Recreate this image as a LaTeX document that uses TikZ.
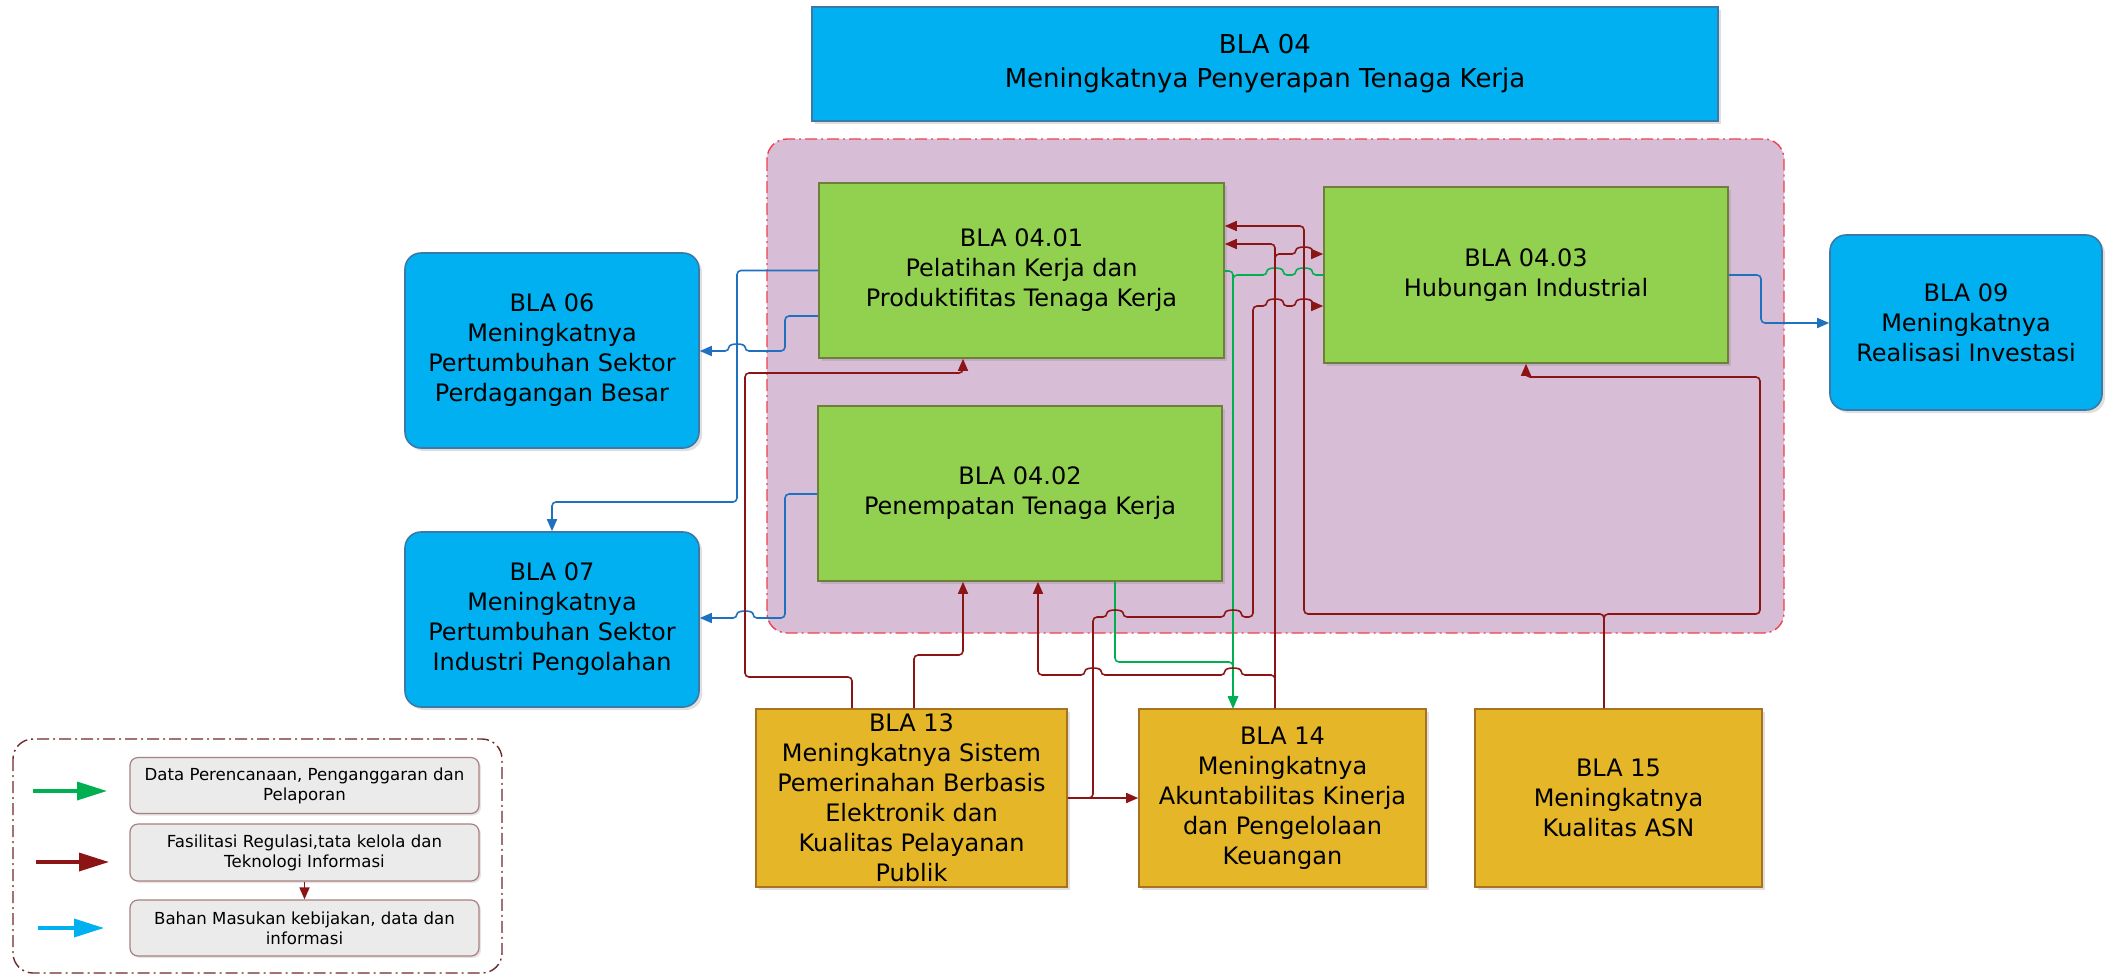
\documentclass[tikz,border=0pt]{standalone}
\usepackage{fontspec}
\setmainfont{DejaVu Sans}
\usetikzlibrary{arrows.meta,shadows}
\definecolor{cyanbox}{HTML}{00B0F0}
\definecolor{cyanedge}{HTML}{3A79A8}
\definecolor{greenbox}{HTML}{92D050}
\definecolor{greenedge}{HTML}{6F7F3A}
\definecolor{goldbox}{HTML}{E5B628}
\definecolor{goldedge}{HTML}{A8721E}
\definecolor{thistlebg}{HTML}{D8BDD7}
\definecolor{frameRed}{HTML}{F0404A}
\definecolor{cblue}{HTML}{1F70BF}
\definecolor{cred}{HTML}{8B1515}
\definecolor{cgreen}{HTML}{00B050}
\definecolor{legblue}{HTML}{00B0F0}
\definecolor{legframe}{HTML}{6E2A2A}
\definecolor{legfill}{HTML}{EBEBEB}
\definecolor{legedge}{HTML}{A88080}
\tikzset{
  boxbase/.style={draw, line width=0.8pt, inner sep=0pt, align=center, text=black,
    font=\fontsize{12pt}{15pt}\selectfont,
    drop shadow={shadow xshift=1.5pt, shadow yshift=-1.5pt, opacity=0.25}},
  topbox/.style={boxbase, fill=cyanbox, draw=cyanedge},
  cyanround/.style={boxbase, fill=cyanbox, draw=cyanedge, rounded corners=8pt},
  greenbx/.style={boxbase, fill=greenbox, draw=greenedge},
  goldbx/.style={boxbase, fill=goldbox, draw=goldedge},
  legbox/.style={draw=legedge, fill=legfill, line width=0.6pt, rounded corners=4pt, inner sep=0pt,
    align=center, font=\fontsize{8.3pt}{10pt}\selectfont, minimum width=174.5pt,
    drop shadow={shadow xshift=1pt, shadow yshift=-1pt, opacity=0.2}},
  conn/.style={line width=0.8pt, rounded corners=2pt, -{Triangle[length=6pt,width=5pt]}},
  conb/.style={conn, draw=cblue},
  conr/.style={conn, draw=cred},
  cong/.style={conn, draw=cgreen},
  legarrow/.style={line width=1.7pt, -{Triangle[length=15pt,width=9pt]}}
}
\begin{document}
\begin{tikzpicture}[x=0.5pt, y=-0.5pt]
\fill[white] (0,0) rectangle (2114,975);
\useasboundingbox (0,0) rectangle (2114,975);

% container
\draw[draw=frameRed, fill=thistlebg, line width=0.7pt, rounded corners=10pt,
  dash pattern=on 6pt off 2pt on 1pt off 2pt] (767,139) rectangle (1784,633);

% nodes
\node[topbox, minimum width=453pt, minimum height=57pt, font=\fontsize{13pt}{17pt}\selectfont] (b04) at (1265,64)
  {BLA 04\\Meningkatnya Penyerapan Tenaga Kerja};
\node[greenbx, minimum width=202.5pt, minimum height=87.5pt] (b0401) at (1021.5,270.5)
  {BLA 04.01\\Pelatihan Kerja dan\\Produktifitas Tenaga Kerja};
\node[greenbx, minimum width=202pt, minimum height=87.5pt] (b0402) at (1020,493.5)
  {BLA 04.02\\Penempatan Tenaga Kerja};
\node[greenbx, minimum width=202pt, minimum height=88pt] (b0403) at (1526,275)
  {BLA 04.03\\Hubungan Industrial};
\node[cyanround, minimum width=147pt, minimum height=97.5pt] (b06) at (552,350.5)
  {BLA 06\\Meningkatnya\\Pertumbuhan Sektor\\Perdagangan Besar};
\node[cyanround, minimum width=147pt, minimum height=87.5pt] (b07) at (552,619.5)
  {BLA 07\\Meningkatnya\\Pertumbuhan Sektor\\Industri Pengolahan};
\node[cyanround, minimum width=136pt, minimum height=87.5pt] (b09) at (1966,322.5)
  {BLA 09\\Meningkatnya\\Realisasi Investasi};
\node[goldbx, minimum width=155.5pt, minimum height=89pt] (b13) at (911.5,798)
  {BLA 13\\Meningkatnya Sistem\\Pemerinahan Berbasis\\Elektronik dan\\Kualitas Pelayanan\\Publik};
\node[goldbx, minimum width=143.5pt, minimum height=89pt] (b14) at (1282.5,798)
  {BLA 14\\Meningkatnya\\Akuntabilitas Kinerja\\dan Pengelolaan\\Keuangan};
\node[goldbx, minimum width=143.5pt, minimum height=89pt] (b15) at (1618.5,798)
  {BLA 15\\Meningkatnya\\Kualitas ASN};

% blue connectors
\draw[conb] (b0401.west) -- (737,270.5) -- (737,502) -- (552,502) -- (b07.north);
\draw[conb] (b0401.west |- 0,316) -- (785,316) -- (785,351) -- (745,351)
  .. controls (745,343) and (729,343) .. (729,351) -- (b06.east |- 0,351);
\draw[conb] (b0402.west |- 0,494) -- (785,494) -- (785,618) -- (753,618)
  .. controls (753,610) and (737,610) .. (737,618) -- (b07.east |- 0,618);
\draw[conb] (b0403.east) -- (1761,275) -- (1761,323) -- (b09.west |- 0,323);

% green connectors
\draw[cong] (b0401.east |- 0,271) -- (1233,271) -- (b14.north -| 1233,0);
\draw[cong] (b0403.west) -- (1312,275) .. controls (1312,267) and (1296,267) .. (1296,275)
  -- (1283,275) .. controls (1283,267) and (1267,267) .. (1267,275)
  -- (1233,275) -- (b14.north -| 1233,0);
\draw[cong] (b0402.south -| 1115,0) -- (1115,662) -- (1233,662) -- (b14.north -| 1233,0);

% red connectors from BLA 13
\draw[conr] (b13.north -| 852,0) -- (852,677) -- (745,677) -- (745,373) -- (963,373) -- (b0401.south -| 963,0);
\draw[conr] (b13.north -| 914,0) -- (914,655) -- (963,655) -- (b0402.south -| 963,0);
\draw[conr] (b13.east |- 0,798) -- (b14.west |- 0,798);
\draw[conr] (b13.east |- 0,798) -- (1093,798) -- (1093,617) -- (1107,617)
  .. controls (1107,609) and (1123,609) .. (1123,617) -- (1225,617)
  .. controls (1225,609) and (1241,609) .. (1241,617) -- (1253,617) -- (1253,306) -- (1267,306)
  .. controls (1267,298) and (1283,298) .. (1283,306) -- (1296,306)
  .. controls (1296,298) and (1312,298) .. (1312,306) -- (b0403.west |- 0,306);

% red connectors from BLA 14
\draw[conr] (b14.north -| 1275,0) -- (1275,244) -- (b0401.east |- 0,244);
\draw[conr] (b14.north -| 1275,0) -- (1275,254) -- (1296,254)
  .. controls (1296,246) and (1312,246) .. (1312,254) -- (b0403.west |- 0,254);
\draw[conr] (b14.north -| 1275,0) -- (1275,675) -- (1241,675)
  .. controls (1241,667) and (1225,667) .. (1225,675) -- (1101,675)
  .. controls (1101,667) and (1085,667) .. (1085,675) -- (1038,675) -- (b0402.south -| 1038,0);

% red connectors from BLA 15
\draw[conr] (b15.north -| 1604,0) -- (1604,614) -- (1304,614) -- (1304,226) -- (b0401.east |- 0,226);
\draw[conr] (b15.north -| 1604,0) -- (1604,614) -- (1760,614) -- (1760,377) -- (1526,377) -- (b0403.south -| 1526,0);

% legend
\draw[legframe, line width=0.7pt, rounded corners=10pt,
  dash pattern=on 6pt off 2pt on 1pt off 2pt] (13,739) rectangle (502,973);
\node[legbox, minimum height=28pt] (leg1) at (304.5,785.5)
  {Data Perencanaan, Penganggaran dan\\Pelaporan};
\node[legbox, minimum height=28.5pt] (leg2) at (304.5,852.5)
  {Fasilitasi Regulasi,tata kelola dan\\Teknologi Informasi};
\node[legbox, minimum height=28pt] (leg3) at (304.5,928)
  {Bahan Masukan kebijakan, data dan\\informasi};
\draw[conr] (leg2.south) -- (leg3.north);
\coordinate (lg1s) at (33,791);
\coordinate (lg1e) at (107,791);
\coordinate (lg2s) at (36,862);
\coordinate (lg2e) at (109,862);
\coordinate (lg3s) at (38,928);
\coordinate (lg3e) at (104,928);
\draw[legarrow, draw=cgreen] (lg1s) -- (lg1e);
\draw[legarrow, draw=cred] (lg2s) -- (lg2e);
\draw[legarrow, draw=legblue] (lg3s) -- (lg3e);
\end{tikzpicture}
\end{document}
